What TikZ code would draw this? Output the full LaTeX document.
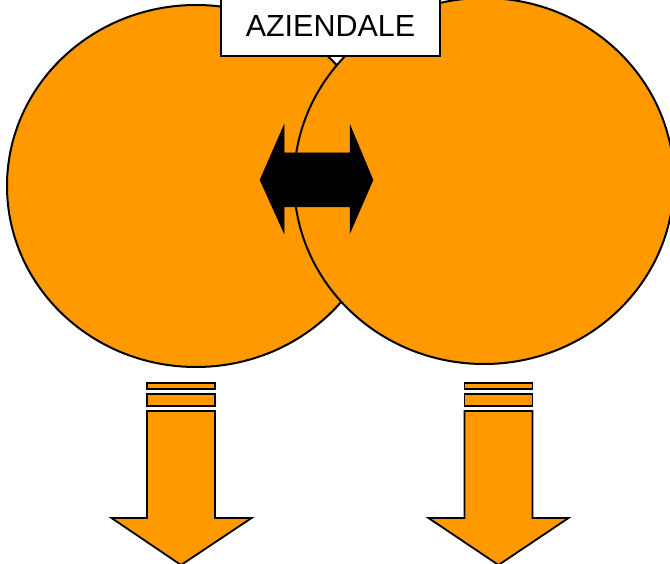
\documentclass[tikz,border=0pt]{standalone}
\usepackage{fontspec}
\setmainfont{Liberation Sans}
\definecolor{org}{HTML}{FF9900}
\tikzset{
  disc/.style={draw=black,fill=org,line width=2pt},
  downarrow/.style={draw=black,fill=org,line width=1.8pt,line join=miter},
  dblarrow/.style={fill=black,draw=black,line width=0.5pt},
  labelbox/.style={draw=black,fill=white,line width=1.5pt}
}
\begin{document}
\begin{tikzpicture}[x=1pt,y=-1pt]
\useasboundingbox (0,0) rectangle (670,564);
\fill[white] (0,0) rectangle (670,564);
% circles
\draw[disc] (196,186) ellipse [x radius=189,y radius=181];
\draw[disc] (484,181) ellipse [x radius=190,y radius=183];
% label box
\node (box) [labelbox,minimum width=219pt,minimum height=90pt,anchor=south,inner sep=0pt] at (330.5,57) {};
\node (lbl) at (330.5,26) {\fontsize{30.5}{36}\selectfont AZIENDALE};
% double arrow
\draw[dblarrow] (260,180) -- (284,125) -- (284,153) -- (350,153) -- (350,125) -- (373,180) -- (350,233) -- (350,207) -- (284,207) -- (284,233) -- cycle;
% left down arrow
\draw[downarrow] (147,383) rectangle (215,389);
\draw[downarrow] (147,394) rectangle (215,406);
\draw[downarrow] (147,411) -- (215,411) -- (215,518) -- (251.5,518) -- (181,565) -- (111.5,518) -- (147,518) -- cycle;
% right down arrow
\draw[downarrow] (464.5,383) rectangle (532.5,389);
\draw[downarrow] (464.5,394) rectangle (532.5,406);
\draw[downarrow] (464.5,411) -- (532.5,411) -- (532.5,518) -- (568.5,518) -- (498.5,565) -- (428.5,518) -- (464.5,518) -- cycle;
\end{tikzpicture}
\end{document}
